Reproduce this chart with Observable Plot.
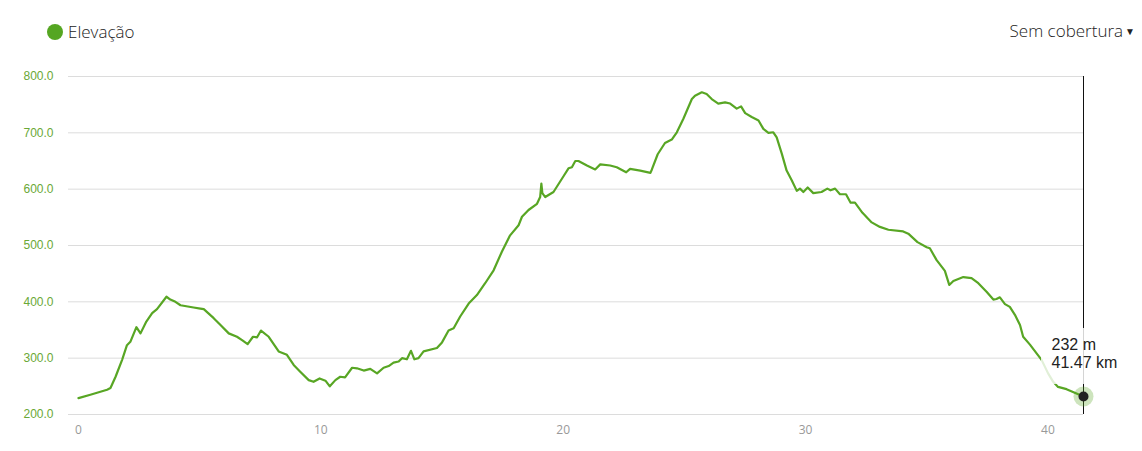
<!DOCTYPE html>
<html><head><meta charset="utf-8">
<script src="https://cdn.jsdelivr.net/npm/d3@7"></script>
<script src="https://cdn.jsdelivr.net/npm/@observablehq/plot@0.6"></script>
<style>
body{margin:0;background:#fff;font-family:"Open Sans",sans-serif;}
#wrap{width:1142px;height:451px;position:relative;overflow:hidden}
#header{height:60px;position:relative}
.leg{position:absolute;left:47px;top:19px;font-size:17px;font-weight:300;color:#222;display:flex;align-items:center;line-height:26px}
.leg .dot{width:16px;height:16px;border-radius:50%;background:#55a622;margin-right:5px}
.cov{position:absolute;right:7px;top:18px;font-size:17px;font-weight:300;color:#222;line-height:26px}
.cov .arr{font-size:10px;margin-left:2px;vertical-align:2px}
svg{display:block}
</style></head>
<body>
<div id="wrap">
  <div id="header">
    <div class="leg"><div class="dot"></div><span id="legText"></span></div>
    <div class="cov"><span id="covText"></span><span class="arr">&#9660;</span></div>
  </div>
  <div id="chart"></div>
</div>
<script>
const seriesName = "Elevação";
const coverageLabel = "Sem cobertura";
const xTicks = [0, 10, 20, 30, 40];
const yTicks = [200, 300, 400, 500, 600, 700, 800];
const distanceKm = [0.00,0.49,1.18,1.32,1.53,1.80,2.00,2.14,2.39,2.56,2.80,3.04,3.24,3.63,3.79,4.00,4.21,4.75,5.03,5.17,5.58,5.86,6.20,6.54,6.75,6.98,7.20,7.37,7.53,7.85,8.26,8.60,8.88,9.15,9.50,9.70,9.95,10.19,10.37,10.60,10.80,11.00,11.29,11.49,11.77,12.04,12.32,12.59,12.80,13.00,13.21,13.35,13.55,13.72,13.86,14.03,14.24,14.79,15.00,15.27,15.48,15.75,16.10,16.44,16.78,17.13,17.47,17.81,18.16,18.30,18.57,18.92,19.05,19.10,19.14,19.26,19.60,20.00,20.22,20.36,20.50,20.63,20.98,21.32,21.53,21.94,22.21,22.60,22.76,23.18,23.60,23.66,23.90,24.20,24.48,24.69,24.96,25.31,25.44,25.72,25.92,26.13,26.40,26.68,26.89,27.16,27.34,27.51,27.78,28.06,28.26,28.47,28.67,28.81,29.02,29.22,29.43,29.64,29.77,29.91,30.09,30.32,30.66,30.90,31.03,31.22,31.42,31.67,31.86,32.04,32.35,32.73,33.07,33.42,34.03,34.24,34.62,35.00,35.13,35.41,35.75,35.93,36.10,36.51,36.85,37.13,37.47,37.75,37.88,38.02,38.23,38.43,38.64,38.85,38.98,39.26,39.74,40.01,40.22,40.42,40.77,41.47];
const elevationM = [229,235,244,247,267,297,323,329,355,344,365,380,387,409,404,400,394,390,388,387,371,359,344,338,332,325,338,337,349,338,312,306,288,276,261,258,264,260,250,261,267,266,283,282,278,281,273,283,286,292,294,300,298,313,298,300,312,318,328,349,353,374,397,412,433,456,489,518,536,551,563,574,586,610,593,586,595,622,637,639,650,650,642,635,644,642,639,630,636,633,629,635,662,682,688,701,725,760,766,772,769,760,752,754,752,743,747,735,728,722,707,700,701,692,663,633,616,597,601,595,603,593,595,601,598,601,591,591,576,576,558,541,533,528,525,521,506,497,495,474,455,430,437,444,442,433,418,404,405,408,396,391,377,359,338,324,297,273,258,249,245,232];
const cursor = {km: 41.47, elev: 232};

document.getElementById("legText").textContent = seriesName;
document.getElementById("covText").textContent = coverageLabel;

const data = distanceKm.map((k, i) => ({km: k, elev: elevationM[i]}));
const green = "#58a624";

function tipBox(index, scales) {
  const x = scales.x(cursor.km), y = scales.y(cursor.elev);
  const r = document.createElementNS("http://www.w3.org/2000/svg", "rect");
  r.setAttribute("x", x - 42);
  r.setAttribute("y", y - 68);
  r.setAttribute("width", 84);
  r.setAttribute("height", 56);
  r.setAttribute("fill", "white");
  r.setAttribute("fill-opacity", 0.82);
  return r;
}

const chart = Plot.plot({
  width: 1142, height: 391,
  marginLeft: 68, marginRight: 59, marginTop: 16, marginBottom: 37,
  style: {fontFamily: "'Liberation Sans', Arial, sans-serif", background: "transparent"},
  x: {domain: [-0.412, cursor.km]},
  y: {domain: [200, 800]},
  marks: [
    Plot.gridY(yTicks, {stroke: "#dcdcdc", strokeOpacity: 1}),
    Plot.axisY(yTicks, {tickSize: 0, tickPadding: 15, tickFormat: d => d.toFixed(1), fill: "#6aa836", fontSize: 12, label: null}),
    Plot.axisX(xTicks, {tickSize: 0, tickPadding: 11, fill: "#999999", fontSize: 12, fontFamily: "'Open Sans', sans-serif", label: null}),
    Plot.line(data, {x: "km", y: "elev", stroke: green, strokeWidth: 2.2, strokeLinejoin: "round"}),
    Plot.ruleX([cursor.km], {y1: 200, y2: 800, stroke: "#111", strokeWidth: 1}),
    tipBox,
    Plot.text([cursor], {x: "km", y: "elev", text: d => `${d.elev} m\n${d.km} km`, textAnchor: "start", lineAnchor: "middle", dx: -32, dy: -43, fontSize: 16, lineHeight: 1.13, fill: "#222"}),
    Plot.dot([cursor], {x: "km", y: "elev", r: 10, fill: green, fillOpacity: 0.3}),
    Plot.dot([cursor], {x: "km", y: "elev", r: 5, fill: "#222"})
  ]
});
document.getElementById("chart").appendChild(chart);
</script>
</body></html>
